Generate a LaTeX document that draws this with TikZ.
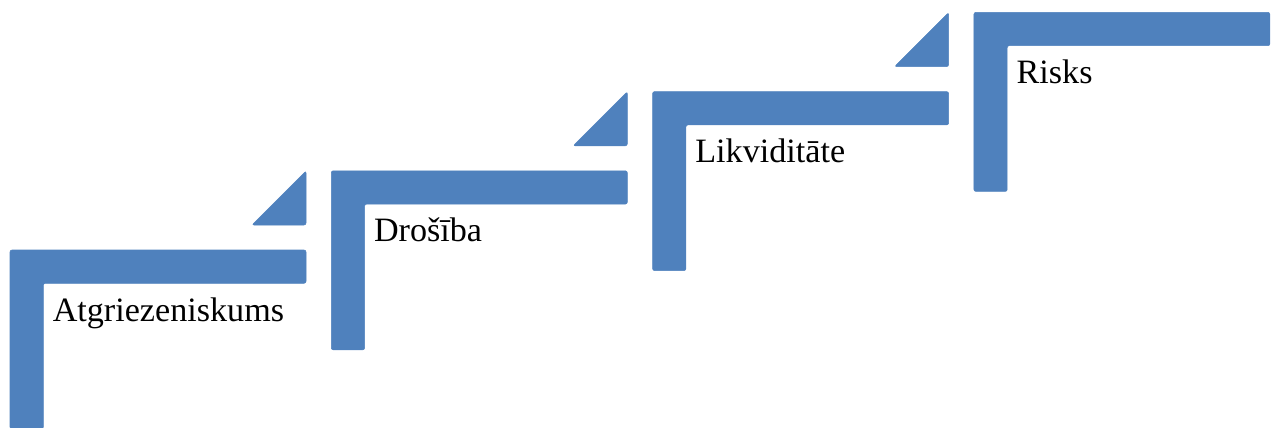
\documentclass[tikz,border=0pt]{standalone}
\usepackage{fontspec}
\setmainfont{Liberation Serif}
\definecolor{stepblue}{HTML}{4F81BD}
\begin{document}
\begin{tikzpicture}[x=0.75pt,y=-0.75pt,
  stepshape/.style={fill=stepblue,draw=stepblue,line width=0.4pt,rounded corners=1.5},
  steplabel/.style={anchor=base west,inner sep=0pt,font=\fontsize{25.6}{30}\selectfont}]
\useasboundingbox (0,0) rectangle (1271,428);
\foreach \i/\txt/\nm in {0/Atgriezeniskums/s1,1/Drošība/s2,2/Likviditāte/s3,3/Risks/s4}{
  \pgfmathsetmacro{\cx}{10+321.3*\i}
  \pgfmathsetmacro{\cy}{250-79.2*\i}
  \fill[stepshape] (\cx,\cy) -- ++(296,0) -- ++(0,33.3) -- ++(-262.7,0) -- ++(0,145.7) -- ++(-33.3,0) -- cycle;
  \ifnum\i<3
    \fill[stepshape] (\cx+242,\cy-25) -- (\cx+296,\cy-25) -- (\cx+296,\cy-79) -- cycle;
  \fi
  \node[steplabel] (\nm) at (\cx+42.5,\cy+71) {\txt};
}
\end{tikzpicture}
\end{document}
